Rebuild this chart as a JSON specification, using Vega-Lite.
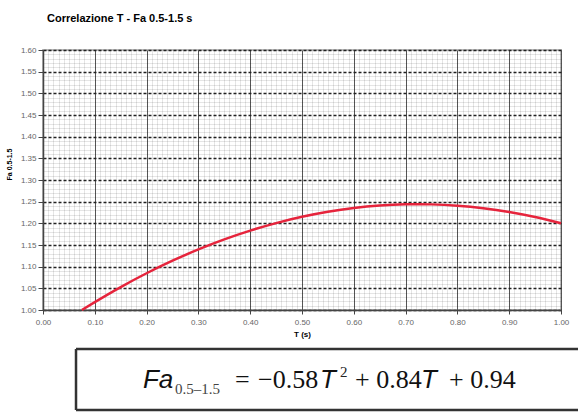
{
  "$schema": "https://vega.github.io/schema/vega-lite/v6.json",
  "padding": {"left": 4, "top": 12, "right": 0, "bottom": 0},
  "background": "white",
  "spacing": 8,
  "config": {"font": "Liberation Sans"},
  "vconcat": [
    {
      "width": 518,
      "height": 260,
      "title": {"text": "Correlazione T - Fa 0.5-1.5 s", "anchor": "start", "frame": "group", "font": "Liberation Sans", "fontSize": 11, "fontWeight": "bold", "color": "#000", "offset": 22, "dx": 4},
      "view": {"stroke": "#bbbbbb", "strokeWidth": 2},
      "data": {"values": [
        {"T": 0.075, "Fa": 1.0},
        {"T": 0.1, "Fa": 1.0182},
        {"T": 0.15, "Fa": 1.05295},
        {"T": 0.2, "Fa": 1.0848},
        {"T": 0.25, "Fa": 1.11375},
        {"T": 0.3, "Fa": 1.1398},
        {"T": 0.35, "Fa": 1.16295},
        {"T": 0.4, "Fa": 1.1832},
        {"T": 0.45, "Fa": 1.20055},
        {"T": 0.5, "Fa": 1.215},
        {"T": 0.55, "Fa": 1.22655},
        {"T": 0.6, "Fa": 1.2352},
        {"T": 0.65, "Fa": 1.24095},
        {"T": 0.7, "Fa": 1.2438},
        {"T": 0.725, "Fa": 1.2441},
        {"T": 0.75, "Fa": 1.24375},
        {"T": 0.8, "Fa": 1.2408},
        {"T": 0.85, "Fa": 1.23495},
        {"T": 0.9, "Fa": 1.2262},
        {"T": 0.95, "Fa": 1.21455},
        {"T": 1.0, "Fa": 1.2}
      ]},
      "mark": {"type": "line", "color": "#e6243c", "strokeWidth": 2.5, "interpolate": "monotone"},
      "encoding": {
        "x": {
          "field": "T", "type": "quantitative",
          "scale": {"domain": [0, 1], "nice": false, "zero": false},
          "axis": {
            "title": "T (s)", "titleFont": "Liberation Sans", "titleFontSize": 8, "titleFontWeight": "bold", "titleColor": "#000", "titlePadding": 4,
            "values": [0,0.01,0.02,0.03,0.04,0.05,0.06,0.07,0.08,0.09,0.1,0.11,0.12,0.13,0.14,0.15,0.16,0.17,0.18,0.19,0.2,0.21,0.22,0.23,0.24,0.25,0.26,0.27,0.28,0.29,0.3,0.31,0.32,0.33,0.34,0.35,0.36,0.37,0.38,0.39,0.4,0.41,0.42,0.43,0.44,0.45,0.46,0.47,0.48,0.49,0.5,0.51,0.52,0.53,0.54,0.55,0.56,0.57,0.58,0.59,0.6,0.61,0.62,0.63,0.64,0.65,0.66,0.67,0.68,0.69,0.7,0.71,0.72,0.73,0.74,0.75,0.76,0.77,0.78,0.79,0.8,0.81,0.82,0.83,0.84,0.85,0.86,0.87,0.88,0.89,0.9,0.91,0.92,0.93,0.94,0.95,0.96,0.97,0.98,0.99,1],
            "labelExpr": "abs(datum.value*10 - round(datum.value*10)) < 0.0001 ? format(datum.value, '.2f') : ''",
            "labelOverlap": false, "labelFlush": false, "labelFont": "Liberation Sans", "labelFontSize": 8, "labelColor": "#666", "labelPadding": 4,
            "tickSize": 4, "tickColor": "#444",
            "tickOpacity": {"condition": {"test": "abs(datum.value*10 - round(datum.value*10)) < 0.0001", "value": 1}, "value": 0},
            "domainColor": "#444", "domainWidth": 1.5,
            "grid": true,
            "gridColor": {"condition": {"test": "abs(datum.value*10 - round(datum.value*10)) < 0.0001", "value": "#555555"}, "value": "#000000"},
            "gridOpacity": {"condition": {"test": "abs(datum.value*10 - round(datum.value*10)) < 0.0001", "value": 1}, "value": 0.1},
            "gridWidth": 1
          }
        },
        "y": {
          "field": "Fa", "type": "quantitative",
          "scale": {"domain": [1, 1.6], "nice": false, "zero": false},
          "axis": {
            "title": "Fa 0.5-1.5", "titleFont": "Liberation Sans", "titleFontSize": 7, "titleFontWeight": "bold", "titleColor": "#000", "titlePadding": 8, "titleY": 114,
            "values": [1,1.01,1.02,1.03,1.04,1.05,1.06,1.07,1.08,1.09,1.1,1.11,1.12,1.13,1.14,1.15,1.16,1.17,1.18,1.19,1.2,1.21,1.22,1.23,1.24,1.25,1.26,1.27,1.28,1.29,1.3,1.31,1.32,1.33,1.34,1.35,1.36,1.37,1.38,1.39,1.4,1.41,1.42,1.43,1.44,1.45,1.46,1.47,1.48,1.49,1.5,1.51,1.52,1.53,1.54,1.55,1.56,1.57,1.58,1.59,1.6],
            "labelExpr": "abs(datum.value*20 - round(datum.value*20)) < 0.0001 ? format(datum.value, '.2f') : ''",
            "labelOverlap": false, "labelFlush": false, "labelFont": "Liberation Sans", "labelFontSize": 8, "labelColor": "#666", "labelPadding": 2,
            "tickSize": 5, "tickColor": "#444",
            "tickOpacity": {"condition": {"test": "abs(datum.value*20 - round(datum.value*20)) < 0.0001", "value": 1}, "value": 0},
            "domainColor": "#444", "domainWidth": 1.5,
            "grid": true,
            "gridColor": {"condition": {"test": "abs(datum.value*20 - round(datum.value*20)) < 0.0001", "value": "#222222"}, "value": "#000000"},
            "gridOpacity": {"condition": {"test": "abs(datum.value*20 - round(datum.value*20)) < 0.0001", "value": 1}, "value": 0.1},
            "gridDash": {"condition": {"test": "abs(datum.value*20 - round(datum.value*20)) < 0.0001", "value": [3, 2]}, "value": []},
            "gridWidth": {"condition": {"test": "abs(datum.value*20 - round(datum.value*20)) < 0.0001", "value": 1.3}, "value": 1}
          }
        }
      }
    },
    {
      "width": 535,
      "height": 61,
      "view": {"stroke": null},
      "data": {"values": [{}]},
      "layer": [
        {
          "mark": {"type": "rule", "color": "#333", "strokeWidth": 2.5},
          "encoding": {
            "x": {"datum": 0.0617, "type": "quantitative", "scale": {"domain": [0, 1], "nice": false, "zero": false}, "axis": null},
            "x2": {"datum": 1},
            "y": {"datum": 1, "type": "quantitative", "scale": {"domain": [0, 1], "nice": false, "zero": false}, "axis": null}
          }
        },
        {
          "mark": {"type": "rule", "color": "#333", "strokeWidth": 2.5},
          "encoding": {
            "x": {"datum": 0.0617, "type": "quantitative"},
            "x2": {"datum": 1},
            "y": {"datum": 0, "type": "quantitative"}
          }
        },
        {
          "mark": {"type": "rule", "color": "#333", "strokeWidth": 2.5},
          "encoding": {
            "x": {"datum": 0.0617, "type": "quantitative"},
            "y": {"datum": 0, "type": "quantitative"},
            "y2": {"datum": 1}
          }
        },
        {
          "mark": {"type": "text", "font": "Liberation Sans", "fontStyle": "italic", "fontSize": 26, "align": "left", "baseline": "alphabetic", "color": "#111"},
          "encoding": {"x": {"datum": 0.1869, "type": "quantitative"}, "y": {"datum": 0.3607, "type": "quantitative"}, "text": {"value": "Fa"}}
        },
        {
          "mark": {"type": "text", "font": "Liberation Serif", "fontSize": 15, "align": "left", "baseline": "alphabetic", "color": "#444"},
          "encoding": {"x": {"datum": 0.2467, "type": "quantitative"}, "y": {"datum": 0.2623, "type": "quantitative"}, "text": {"value": "0.5–1.5"}}
        },
        {
          "mark": {"type": "text", "font": "Liberation Serif", "fontSize": 26, "align": "left", "baseline": "alphabetic", "color": "#111"},
          "encoding": {"x": {"datum": 0.3589, "type": "quantitative"}, "y": {"datum": 0.3607, "type": "quantitative"}, "text": {"value": "="}}
        },
        {
          "mark": {"type": "text", "font": "Liberation Serif", "fontSize": 26, "align": "left", "baseline": "alphabetic", "color": "#111"},
          "encoding": {"x": {"datum": 0.4019, "type": "quantitative"}, "y": {"datum": 0.3607, "type": "quantitative"}, "text": {"value": "−0.58"}}
        },
        {
          "mark": {"type": "text", "font": "Liberation Sans", "fontStyle": "italic", "fontSize": 26, "align": "left", "baseline": "alphabetic", "color": "#111"},
          "encoding": {"x": {"datum": 0.5178, "type": "quantitative"}, "y": {"datum": 0.3607, "type": "quantitative"}, "text": {"value": "T"}}
        },
        {
          "mark": {"type": "text", "font": "Liberation Serif", "fontSize": 15, "align": "left", "baseline": "alphabetic", "color": "#222"},
          "encoding": {"x": {"datum": 0.5551, "type": "quantitative"}, "y": {"datum": 0.541, "type": "quantitative"}, "text": {"value": "2"}}
        },
        {
          "mark": {"type": "text", "font": "Liberation Serif", "fontSize": 26, "align": "left", "baseline": "alphabetic", "color": "#111"},
          "encoding": {"x": {"datum": 0.5832, "type": "quantitative"}, "y": {"datum": 0.3607, "type": "quantitative"}, "text": {"value": "+ 0.84"}}
        },
        {
          "mark": {"type": "text", "font": "Liberation Sans", "fontStyle": "italic", "fontSize": 26, "align": "left", "baseline": "alphabetic", "color": "#111"},
          "encoding": {"x": {"datum": 0.7065, "type": "quantitative"}, "y": {"datum": 0.3607, "type": "quantitative"}, "text": {"value": "T"}}
        },
        {
          "mark": {"type": "text", "font": "Liberation Serif", "fontSize": 26, "align": "left", "baseline": "alphabetic", "color": "#111"},
          "encoding": {"x": {"datum": 0.7589, "type": "quantitative"}, "y": {"datum": 0.3607, "type": "quantitative"}, "text": {"value": "+ 0.94"}}
        }
      ]
    }
  ]
}
